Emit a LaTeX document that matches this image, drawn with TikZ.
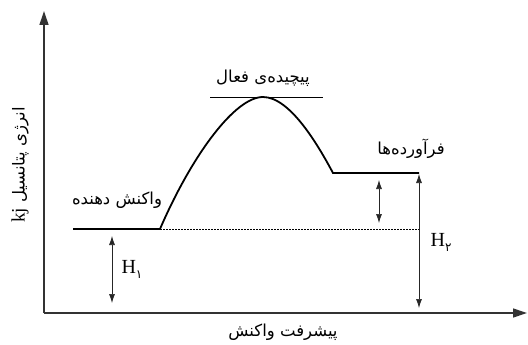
\documentclass[tikz,border=0pt]{standalone}
\usepackage{fontspec}
\setmainfont{Liberation Serif}
\newfontfamily\arabicfont[Script=Arabic]{DejaVu Sans}
\TeXXeTstate=1
\usetikzlibrary{arrows.meta}
\begin{document}
\begin{tikzpicture}[x=1pt,y=-1pt,
  axis/.style={line width=1.3pt, draw=black!80, -{Triangle[length=14pt,width=9pt]}},
  level/.style={line width=1.8pt, draw=black},
  dbl/.style={line width=0.7pt, draw=black!85, {Latex[length=9pt,width=6pt]}-{Latex[length=9pt,width=6pt]}},
  lbl/.style={font=\arabicfont\fontsize{16.5}{18}\selectfont, inner sep=0pt},
  hlbl/.style={font=\fontsize{20}{22}\selectfont, inner sep=0pt},
]
\useasboundingbox (0,0) rectangle (528,345);
% axes
\coordinate (O) at (44,313);
\coordinate (Ytop) at (44,11);
\coordinate (Xend) at (527,313);
\draw[axis] (O) -- (Ytop);
\draw[axis] (O) -- (Xend);
% levels
\coordinate (R0) at (73,229);
\coordinate (R1) at (160,229);
\coordinate (Pk) at (263,97);
\coordinate (P0) at (333,173);
\coordinate (P1) at (419,173);
\coordinate (D1) at (419,229);
\draw[level] (R0) -- (R1);
\draw[level] (R1) .. controls (192,155) and (235,97) .. (Pk)
                  .. controls (290,97) and (318,145) .. (P0) -- (P1);
\draw[line width=0.8pt, dash pattern=on 1.6pt off 1.4pt] (R1) -- (D1);
% activated complex line
\coordinate (A0) at (210,97);
\coordinate (A1) at (323,97);
\draw[line width=0.8pt] (A0) -- (A1);
% arrows
\coordinate (s1) at (379,180);
\coordinate (s2) at (379,223);
\draw[dbl] (s1) -- (s2);
\coordinate (h1a) at (112,236);
\coordinate (h1b) at (112,303);
\draw[dbl] (h1a) -- (h1b);
\coordinate (h2a) at (419,174);
\coordinate (h2b) at (419,308);
\draw[dbl] (h2a) -- (h2b);
% labels
\node[lbl] (complex) at (263,78) {\beginR پیچیده‌ی فعال\endR};
\node[lbl] (react) at (117,200) {\beginR واکنش دهنده\endR};
\node[lbl] (prod) at (411,149) {\beginR فرآورده‌ها\endR};
\node[lbl] (xlab) at (283,332) {\beginR پیشرفت واکنش\endR};
\node[lbl, rotate=90] (ylab) at (20,165) {\beginR انرژی پتانسیل \beginL{\rmfamily\fontsize{19}{20}\selectfont kj}\endL\endR};
\node[hlbl] (H1) at (132,269) {H\raisebox{-5pt}{\arabicfont\fontsize{12}{14}\selectfont ۱}};
\node[hlbl] (H2) at (441,242) {H\raisebox{-5pt}{\arabicfont\fontsize{12}{14}\selectfont ۲}};
\end{tikzpicture}
\end{document}
